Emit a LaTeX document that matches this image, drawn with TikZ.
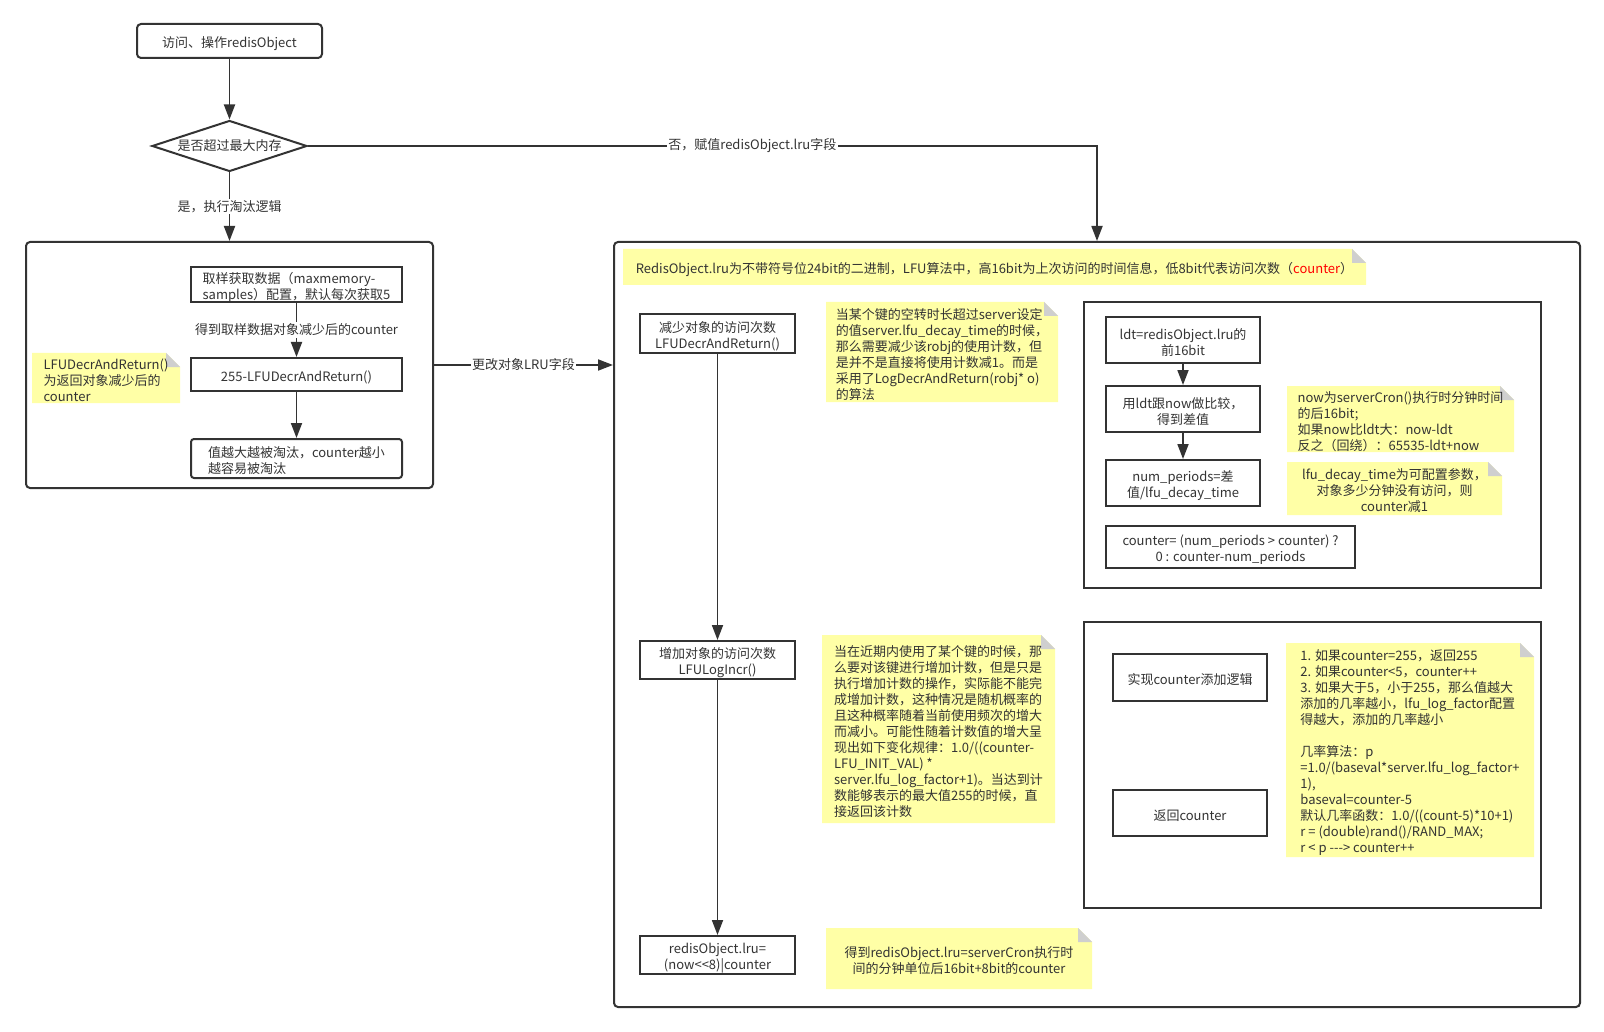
\documentclass[tikz,border=0pt]{standalone}
\usepackage{fontspec}
\setmainfont{Noto Sans CJK SC}
\usetikzlibrary{arrows.meta,shapes.geometric}
\definecolor{lc}{HTML}{333333}
\definecolor{tc}{HTML}{333333}
\definecolor{notefill}{HTML}{FFFFA6}
\definecolor{foldc}{HTML}{CFCFCF}
\newcommand\dfont{\fontsize{13pt}{16pt}\selectfont}
% tall invisible strut on a first line, which sets the text a little lower in its shape
\newcommand\tstr{\rule{0pt}{16pt}}

\begin{document}
\begin{tikzpicture}[x=1pt,y=-1pt,
  box/.style={draw=lc, line width=2pt, fill=white, text=tc, font=\dfont,
    inner sep=0pt, align=center},
  frame/.style={draw=lc, line width=2pt, fill=white, inner sep=0pt},
  arr/.style={draw=lc, line width=1.8pt, -{Triangle[length=15pt,width=11pt]}},
  lbl/.style={fill=white, inner sep=1.5pt, text=tc, font=\dfont},
  note/.style={fill=white, inner sep=0pt, text=tc, font=\dfont, align=center,
    path picture={
      \fill[notefill] (path picture bounding box.south west)
        -- (path picture bounding box.north west)
        -- ([xshift=-14pt]path picture bounding box.north east)
        -- ([yshift=-14pt]path picture bounding box.north east)
        -- (path picture bounding box.south east) -- cycle;
      \fill[foldc] ([xshift=-14pt]path picture bounding box.north east)
        -- ([xshift=-14pt,yshift=-14pt]path picture bounding box.north east)
        -- ([yshift=-14pt]path picture bounding box.north east) -- cycle;
    }},
]
\path[fill=white, use as bounding box] (0,0) rectangle (1604,1032);

% entry and decision
\node[box, rounded corners=4pt, minimum width=185pt, minimum height=34pt] (start) at (229.5,41) {\tstr 访问、操作redisObject};
\node[draw=lc, line width=2pt, fill=white, text=tc, font=\dfont, inner sep=0pt,
  shape=diamond, aspect=3, minimum width=155pt, minimum height=51pt] (dec) at (229.5,146) {是否超过最大内存};

% eviction branch
\node[frame, rounded corners=4pt, minimum width=407pt, minimum height=246pt] (lc) at (229.5,365) {};
\node[box, align=left, minimum width=211pt, minimum height=35pt] (s1) at (296.5,284.5) {\tstr 取样获取数据（maxmemory-\\samples）配置，默认每次获取5};
\node[box, minimum width=211pt, minimum height=33pt] (s2) at (296.5,374.5) {\tstr 255-LFUDecrAndReturn()};
\node[box, align=left, rounded corners=3pt, minimum width=211pt, minimum height=39pt] (s3) at (296.5,458.5) {\tstr 值越大越被淘汰，counter越小\\越容易被淘汰};
\node[note, align=left, minimum width=148pt, minimum height=50pt] (n0) at (106,378) {\tstr LFUDecrAndReturn()\\为返回对象减少后的\\counter};

% lru field update
\node[frame, rounded corners=4pt, minimum width=966pt, minimum height=765pt] (rc) at (1097,624.5) {};
\node[note, minimum width=743pt, minimum height=36pt] (nt) at (994.5,267) {\tstr RedisObject.lru为不带符号位24bit的二进制，LFU算法中，高16bit为上次访问的时间信息，低8bit代表访问次数（\textcolor{red}{counter}）};

\node[box, minimum width=155pt, minimum height=39pt] (d1) at (717.5,333.5) {\tstr 减少对象的访问次数\\LFUDecrAndReturn()};
\node[box, minimum width=155pt, minimum height=38pt] (d2) at (717.5,660) {\tstr 增加对象的访问次数\\LFULogIncr()};
\node[box, minimum width=155pt, minimum height=38pt] (d3) at (717.5,955) {\tstr redisObject.lru=\\(now<{}<8)|counter};

\node[note, align=left, minimum width=232pt, minimum height=100pt] (n1) at (942,352) {\tstr 当某个键的空转时长超过server设定\\的值server.lfu\_decay\_time的时候，\\那么需要减少该robj的使用计数，但\\是并不是直接将使用计数减1。而是\\采用了LogDecrAndReturn(robj* o)\\的算法};
\node[note, align=left, minimum width=233pt, minimum height=188pt] (n2) at (938.5,729) {\tstr 当在近期内使用了某个键的时候，那\\么要对该键进行增加计数，但是只是\\执行增加计数的操作，实际能不能完\\成增加计数，这种情况是随机概率的\\且这种概率随着当前使用频次的增大\\而减小。可能性随着计数值的增大呈\\现出如下变化规律：1.0/((counter-\\LFU\_INIT\_VAL) *\\server.lfu\_log\_factor+1)。当达到计\\数能够表示的最大值255的时候，直\\接返回该计数};
\node[note, minimum width=266pt, minimum height=61pt] (n3) at (959,958.5) {\tstr 得到redisObject.lru=serverCron执行时\\间的分钟单位后16bit+8bit的counter};

% decrement detail
\node[frame, minimum width=457pt, minimum height=286pt] (ub) at (1312.5,445) {};
\node[box, minimum width=154pt, minimum height=46pt] (u1) at (1183,340) {\tstr ldt=redisObject.lru的\\前16bit};
\node[box, minimum width=154pt, minimum height=46pt] (u2) at (1183,409) {\tstr 用ldt跟now做比较，\\得到差值};
\node[box, minimum width=154pt, minimum height=46pt] (u3) at (1183,483) {\tstr num\_periods=差\\值/lfu\_decay\_time};
\node[box, minimum width=249pt, minimum height=42pt] (u4) at (1230.5,547) {\tstr counter= (num\_periods > counter) ?\\0 : counter-num\_periods};
\node[note, align=left, minimum width=227pt, minimum height=66pt] (un1) at (1400.5,419) {\tstr now为serverCron()执行时分钟时间\\的后16bit;\\如果now比ldt大：now-ldt\\反之（回绕）：65535-ldt+now};
\node[note, minimum width=215pt, minimum height=53pt] (un2) at (1394.5,488.5) {\tstr lfu\_decay\_time为可配置参数，\\对象多少分钟没有访问，则\\counter减1};

% increment detail
\node[frame, minimum width=457pt, minimum height=286pt] (lb) at (1312.5,765) {};
\node[box, minimum width=154pt, minimum height=47pt] (l1) at (1190,677.5) {\tstr 实现counter添加逻辑};
\node[box, minimum width=154pt, minimum height=46pt] (l2) at (1190,813) {\tstr 返回counter};
\node[note, align=left, minimum width=248pt, minimum height=214pt] (ln) at (1410,750) {\tstr 1. 如果counter=255，返回255\\2. 如果counter<5，counter++\\3. 如果大于5，小于255，那么值越大\\添加的几率越小，lfu\_log\_factor配置\\得越大，添加的几率越小\\[16pt]几率算法：p\\=1.0/(baseval*server.lfu\_log\_factor+\\1),\\baseval=counter-5\\默认几率函数：1.0/((count-5)*10+1)\\r = (double)rand()/RAND\_MAX;\\r < p -{}-{}-> counter++};

% connectors
\draw[arr] (start.south) -- (dec.north);
\draw[arr] (dec.south) -- node[lbl]{是，执行淘汰逻辑} (lc.north);
\draw[arr] (dec.east) -| node[lbl, pos=0.2816]{否，赋值redisObject.lru字段} (rc.north);
\draw[arr] (s1) -- node[lbl]{得到取样数据对象减少后的counter} (s2);
\draw[arr] (s2) -- (s3);
\draw[arr] (lc.east) -- node[lbl]{更改对象LRU字段} (lc.east -| rc.west);
\draw[arr] (d1) -- (d2);
\draw[arr] (d2) -- (d3);
\draw[arr] (u1) -- (u2);
\draw[arr] (u2) -- (u3);
\end{tikzpicture}
\end{document}
